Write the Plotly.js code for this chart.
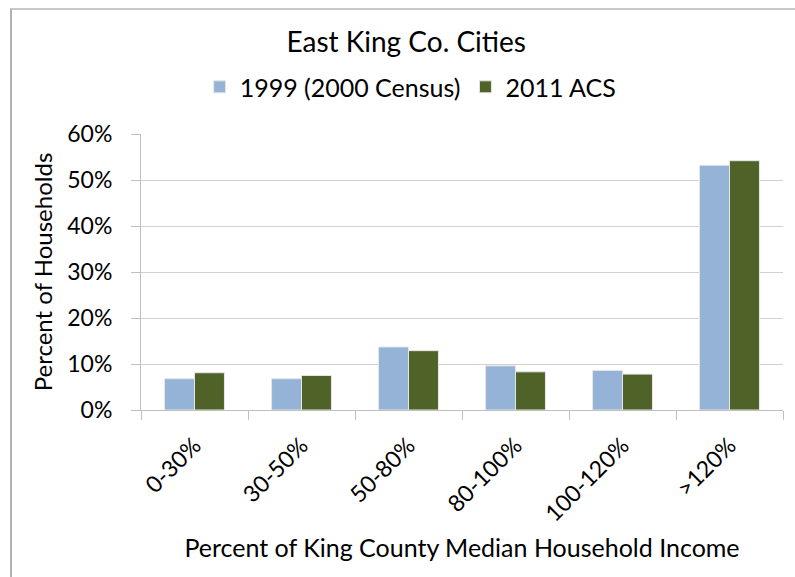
<!DOCTYPE html>
<html>
<head>
<meta charset="utf-8">
<script src="https://cdn.plot.ly/plotly-3.0.1.min.js"></script>
<style>
html,body{margin:0;padding:0;background:#fff;}
#wrap{position:relative;width:795px;height:577px;overflow:hidden;}
#chart{width:795px;height:577px;}
#frame{position:absolute;left:10px;top:8px;right:-10px;bottom:-10px;border-left:2px solid #b3b3b3;border-top:2px solid #c8c8c8;pointer-events:none;}
</style>
</head>
<body>
<div id="wrap"><div id="chart"></div><div id="frame"></div></div>
<script>
const categories = ["0-30%", "30-50%", "50-80%", "80-100%", "100-120%", ">120%"];
const series1999 = [0.068, 0.068, 0.137, 0.096, 0.086, 0.532];
const series2011 = [0.081, 0.075, 0.129, 0.083, 0.078, 0.542];
const seriesNames = ["1999 (2000 Census)", "2011 ACS"];
const yTickVals = [0, 0.1, 0.2, 0.3, 0.4, 0.5, 0.6];
const yTickText = ["0%", "10%", "20%", "30%", "40%", "50%", "60%"];

const FONT = "Lato, 'Open Sans', sans-serif";

const traces = [
  {type: "bar", name: seriesNames[0], x: categories, y: series1999,
   marker: {color: "#95B3D7", line: {color: "#e6e6e6", width: 1}}},
  {type: "bar", name: seriesNames[1], x: categories, y: series2011,
   marker: {color: "#4F6228", line: {color: "#e6e6e6", width: 1}}}
];

const layout = {
  width: 795, height: 577,
  margin: {l: 141, r: 12, t: 134, b: 167},
  paper_bgcolor: "#fff", plot_bgcolor: "#fff",
  font: {family: FONT, color: "#000", size: 20},
  title: {text: "East King Co. Cities", font: {family: FONT, size: 28, color: "#000"},
          xref: "container", x: 0.511, xanchor: "center", yref: "container", y: 1 - 42/577, yanchor: "middle"},
  showlegend: true,
  legend: {orientation: "h", x: 0.42, xanchor: "center", y: 1.17, yanchor: "middle",
           font: {family: FONT, size: 25, color: "#000"}, itemwidth: 30, traceorder: "normal"},
  barmode: "group", bargap: 0.44, bargroupgap: 0,
  xaxis: {type: "category", showline: true, linecolor: "#bfbfbf", linewidth: 1,
          ticks: "outside", tickson: "boundaries", ticklen: 9, tickcolor: "#bfbfbf",
          tickangle: -45, tickfont: {family: FONT, size: 23, color: "#000"}, ticklabelstandoff: 12,
          showgrid: false, zeroline: false,
          title: {text: "Percent of King County Median Household Income", font: {family: FONT, size: 25, color: "#000"}, standoff: 14}},
  yaxis: {range: [0, 0.6], tickvals: yTickVals, ticktext: yTickText,
          showline: true, linecolor: "#bfbfbf", linewidth: 1,
          ticks: "outside", ticklen: 9, tickcolor: "#bfbfbf", ticklabelstandoff: 14,
          showgrid: true, gridcolor: "#d0d0d0", gridwidth: 1, zeroline: false,
          tickfont: {family: FONT, size: 23, color: "#000"},
          title: {text: "Percent of Households", font: {family: FONT, size: 24, color: "#000"}, standoff: 7}}
};

Plotly.newPlot("chart", traces, layout, {displayModeBar: false, staticPlot: true});
</script>
</body>
</html>
